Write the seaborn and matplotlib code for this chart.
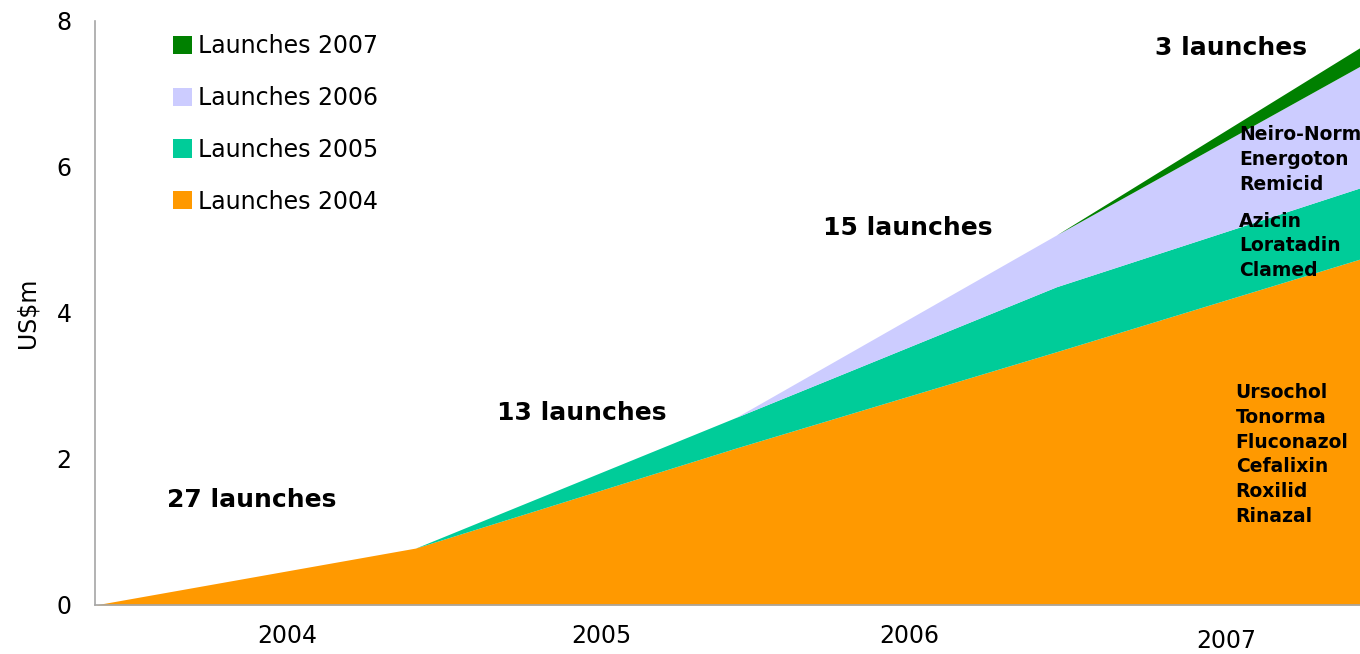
import matplotlib
matplotlib.use("Agg")
import matplotlib.pyplot as plt
import matplotlib.transforms as mtransforms
from matplotlib.patches import Patch
import seaborn as sns

# Sales by launch cohort (US$m), one value per period boundary
periods = [0, 1, 2, 3, 4]
launches_2004 = [0.0, 0.78, 2.15, 3.47, 4.81]
launches_2005 = [0.0, 0.0, 0.42, 0.89, 0.98]
launches_2006 = [0.0, 0.0, 0.0, 0.71, 1.72]
launches_2007 = [0.0, 0.0, 0.0, 0.0, 0.27]

series_names = ["Launches 2004", "Launches 2005", "Launches 2006", "Launches 2007"]
series_colors = ["#FF9900", "#00CC99", "#CCCCFF", "#008000"]

year_labels = ["2004", "2005", "2006", "2007"]
year_label_x = [0.60, 1.58, 2.54, 3.53]
year_label_y = [-0.053, -0.053, -0.053, -0.062]

cohort_notes = ["27 launches", "13 launches", "15 launches", "3 launches"]
cohort_note_x = [0.225, 1.254, 2.271, 3.307]
cohort_note_y = [1.44, 2.63, 5.16, 7.63]

product_groups = [
    ["Neiro-Norm", "Energoton", "Remicid"],
    ["Azicin", "Loratadin", "Clamed"],
    ["Ursochol", "Tonorma", "Fluconazol", "Cefalixin", "Roxilid", "Rinazal"],
]
product_group_x = [3.569, 3.569, 3.559]
product_group_y = [6.10, 4.92, 2.06]

sns.set_theme(style="white")
plt.rcParams["font.family"] = ["DejaVu Sans"]
plt.rcParams.update({"text.color": "black", "axes.labelcolor": "black",
                     "xtick.color": "black", "ytick.color": "black"})

fig = plt.figure(figsize=(13.6, 6.54), dpi=100)
ax = fig.add_axes([95 / 1360, 49 / 654, 1265 / 1360, 584 / 654])

ax.stackplot(periods, launches_2004, launches_2005, launches_2006, launches_2007,
             colors=series_colors, linewidth=0)

ax.set_xlim(0, 3.947)
ax.set_ylim(0, 8)
ax.set_yticks([0, 2, 4, 6, 8])
ax.set_xticks([])
ax.tick_params(axis="y", length=0, labelsize=17, pad=17)
ax.set_ylabel("US$m", fontsize=17, labelpad=12)

sns.despine(ax=ax, top=True, right=True)
for side in ("left", "bottom"):
    ax.spines[side].set_color("#A6A6A6")
    ax.spines[side].set_linewidth(1.2)

trans = mtransforms.blended_transform_factory(ax.transData, ax.transAxes)
for lbl, x, y in zip(year_labels, year_label_x, year_label_y):
    ax.text(x, y, lbl, transform=trans, ha="center", va="center", fontsize=17)

for txt, x, y in zip(cohort_notes, cohort_note_x, cohort_note_y):
    ax.text(x, y, txt, ha="left", va="center", fontsize=18, fontweight="bold")

for names, x, y in zip(product_groups, product_group_x, product_group_y):
    ax.text(x, y, "\n".join(names), ha="left", va="center", fontsize=13.5,
            fontweight="bold", linespacing=1.38, clip_on=False)

handles = [Patch(facecolor=c, edgecolor="none") for c in series_colors]
leg = fig.legend(handles[::-1], series_names[::-1], loc="upper left",
                 bbox_to_anchor=(173 / 1360, 1 - 34 / 654), frameon=False,
                 fontsize=17, handlelength=0.8, handleheight=0.8,
                 handletextpad=0.25, labelspacing=1.18, borderpad=0,
                 borderaxespad=0)

fig.savefig("out.png", dpi=100, facecolor="white")
